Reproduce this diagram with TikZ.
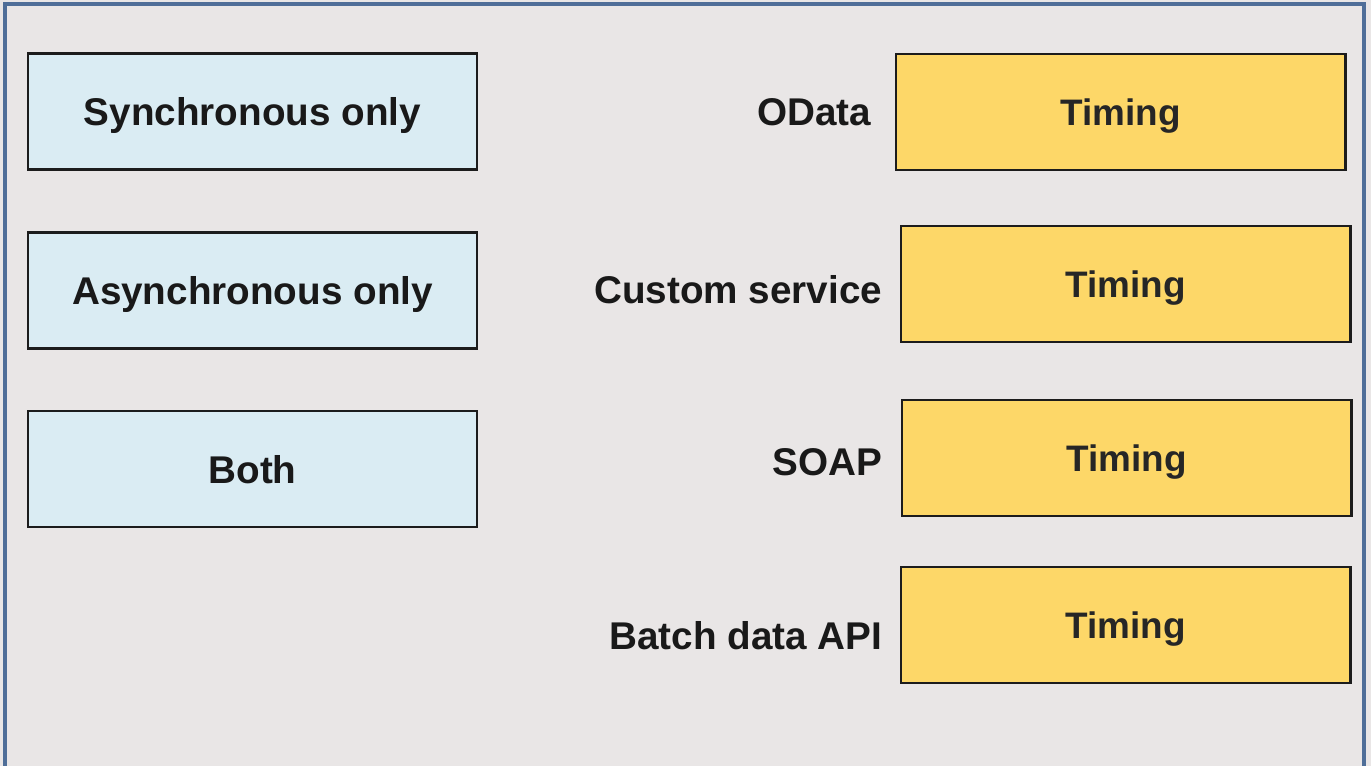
\documentclass[tikz,border=0pt]{standalone}
\usepackage{fontspec}
\setmainfont{Liberation Sans}
\usepackage{tikz}
\usetikzlibrary{positioning}

\definecolor{bggray}{HTML}{E9E6E6}
\definecolor{framblue}{HTML}{4F6E98}
\definecolor{boxblue}{HTML}{DAECF3}
\definecolor{boxyellow}{HTML}{FDD768}
\definecolor{boxline}{HTML}{1C1C1C}

\tikzset{
  modebox/.style={draw=boxline,line width=1.2pt,fill=boxblue,minimum width=8.98cm,minimum height=2.32cm,
    font=\fontsize{22}{26}\selectfont\bfseries,text=black!90,text depth=0pt},
  timebox/.style={draw=boxline,line width=1.2pt,fill=boxyellow,minimum width=9cm,minimum height=2.32cm,
    font=\fontsize{21}{25}\selectfont\bfseries,text=black!85,text depth=0pt},
  apilbl/.style={inner sep=0pt,font=\fontsize{22}{26}\selectfont\bfseries,text=black!90,text depth=0pt}
}

\begin{document}
\begin{tikzpicture}[x=0.02cm,y=-0.02cm]
\useasboundingbox (0,0) rectangle (1371,766);
% Background
\fill[bggray] (0,0) rectangle (1371,766);
\draw[framblue,line width=1.8pt] (5,780) -- (5,4) -- (1364,4) -- (1364,780);

% Left column
\node[modebox] (sync) at (252.5,111.5) {Synchronous only};
\node[modebox] (async) at (252.5,290.5) {Asynchronous only};
\node[modebox] (both) at (252.5,469) {Both};

% Right column
\node[timebox] (odata) at (1120.5,112) {Timing};
\node[timebox] (custom) at (1125.5,284) {Timing};
\node[timebox] (soap) at (1126.5,458) {Timing};
\node[timebox] (batch) at (1125.5,625) {Timing};

% API labels
\node[apilbl,left=0.46cm of odata] (odatalbl) {OData};
\node[apilbl,left=0.34cm of custom,yshift=-0.1cm] (customlbl) {Custom service};
\node[apilbl,left=0.36cm of soap,yshift=-0.08cm] (soaplbl) {SOAP};
\node[apilbl,left=0.34cm of batch,yshift=-0.2cm] (batchlbl) {Batch data API};

\end{tikzpicture}
\end{document}
